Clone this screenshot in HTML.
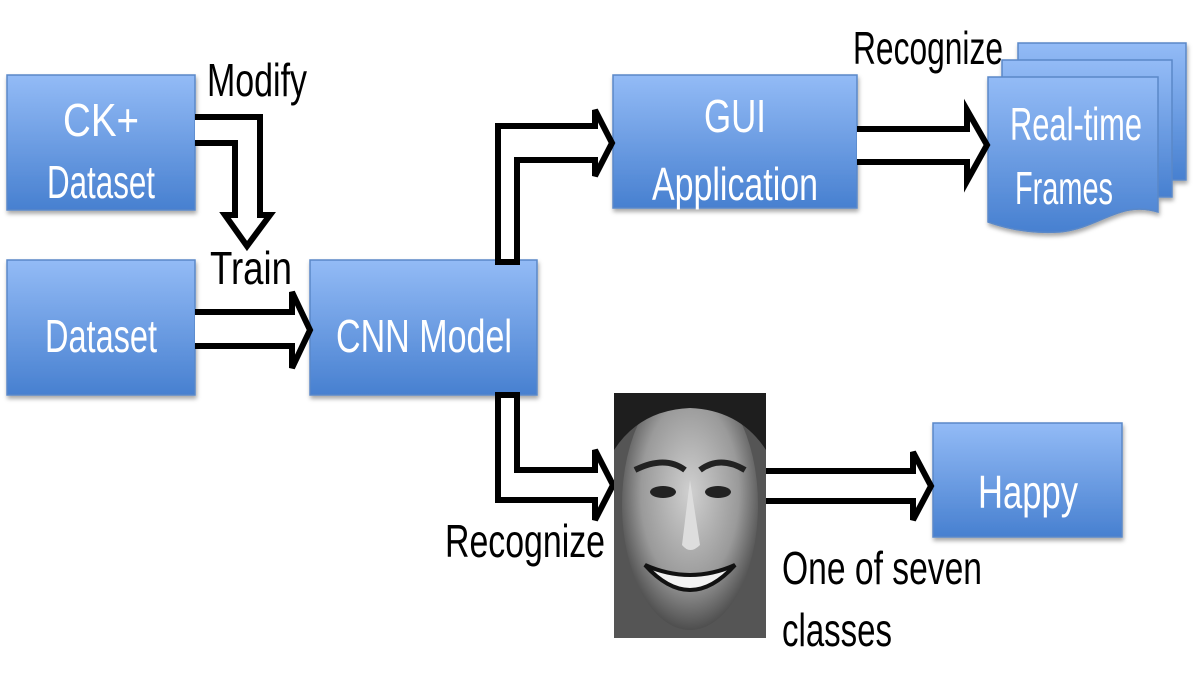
<!DOCTYPE html>
<html><head><meta charset="utf-8"><style>body{margin:0;background:#fff}svg{display:block}</style></head>
<body>
<svg width="1200" height="675" viewBox="0 0 1200 675" xmlns="http://www.w3.org/2000/svg" font-family="Liberation Sans, sans-serif">
<defs>
<linearGradient id="g" x1="0" y1="0" x2="0" y2="1"><stop offset="0" stop-color="#93bbf6"/><stop offset="1" stop-color="#4780d0"/></linearGradient>
<radialGradient id="f" cx="0.5" cy="0.45" r="0.6"><stop offset="0" stop-color="#d0d0d0"/><stop offset="0.6" stop-color="#9a9a9a"/><stop offset="1" stop-color="#3a3a3a"/></radialGradient>
<filter id="s" x="-5%" y="-5%" width="115%" height="120%"><feDropShadow dx="1" dy="3" stdDeviation="2" flood-color="#000" flood-opacity="0.35"/></filter>
<clipPath id="c"><rect x="614" y="393" width="152" height="245"/></clipPath>
</defs>
<g filter="url(#s)" stroke="#5a88c8" stroke-width="1.5" fill="url(#g)">
<rect x="7" y="75" width="188" height="135"/>
<rect x="7" y="260" width="188" height="135"/>
<rect x="310" y="260" width="227" height="135"/>
<rect x="613" y="75" width="244" height="133"/>
<rect x="933" y="423" width="189" height="114"/>
<path d="M1018 43 H1186 V180 H1018 Z"/>
<path d="M1002 60 H1172 V197 H1002 Z"/>
<path d="M988 77 H1158 V212 C1120 200 1100 228 1060 232 C1030 234 1005 228 988 222 Z"/>
</g>
<g fill="#fff" font-size="46" text-anchor="middle">
<text x="101" y="136" textLength="76" lengthAdjust="spacingAndGlyphs">CK+</text>
<text x="101" y="198" textLength="108" lengthAdjust="spacingAndGlyphs">Dataset</text>
<text x="101" y="352" textLength="112" lengthAdjust="spacingAndGlyphs">Dataset</text>
<text x="424" y="352" textLength="176" lengthAdjust="spacingAndGlyphs">CNN Model</text>
<text x="735" y="132" textLength="62" lengthAdjust="spacingAndGlyphs">GUI</text>
<text x="735" y="200" textLength="166" lengthAdjust="spacingAndGlyphs">Application</text>
<text x="1076" y="140" textLength="132" lengthAdjust="spacingAndGlyphs">Real-time</text>
<text x="1064" y="204" textLength="98" lengthAdjust="spacingAndGlyphs">Frames</text>
<text x="1028" y="508" textLength="100" lengthAdjust="spacingAndGlyphs">Happy</text>
</g>
<g fill="#fff" stroke="#000" stroke-width="6" stroke-linejoin="miter">
<path d="M195 117 H260 V215 H270 L247 246 L225 215 H235 V143 H195"/>
<path d="M195 312 H292 V292 L310 330 L292 368 V346 H195"/>
<path d="M517 262 V160 H595 V176 L612 143 L595 110 V126 H498 V262 Z"/>
<path d="M857 129 H967 V110 L987 145 L967 181 V162 H857"/>
<path d="M498 395 V500 H595 V520 L613 485 L595 450 V470 H517 V395 Z"/>
<path d="M766 471 H913 V452 L931 486 L913 520 V501 H766"/>
</g>
<g clip-path="url(#c)">
<rect x="614" y="393" width="152" height="245" fill="#555"/>
<ellipse cx="690" cy="505" rx="68" ry="125" fill="url(#f)"/>
<path d="M614 393 H766 V450 Q740 410 690 408 Q640 410 614 450 Z" fill="#1e1e1e"/>
<path d="M635 470 Q665 455 685 470" stroke="#222" stroke-width="6" fill="none"/>
<path d="M700 470 Q720 455 745 470" stroke="#222" stroke-width="6" fill="none"/>
<ellipse cx="663" cy="492" rx="13" ry="6" fill="#222"/>
<ellipse cx="718" cy="492" rx="13" ry="6" fill="#222"/>
<path d="M690 480 L682 545 Q690 555 700 545 Z" fill="#ddd"/>
<path d="M645 565 Q690 615 735 565 Q690 585 645 565Z" fill="#f2f2f2" stroke="#111" stroke-width="4"/>
</g>
<g fill="#000" font-size="46">
<text x="207" y="96" textLength="100" lengthAdjust="spacingAndGlyphs">Modify</text>
<text x="210" y="284" textLength="82" lengthAdjust="spacingAndGlyphs">Train</text>
<text x="853" y="64" textLength="150" lengthAdjust="spacingAndGlyphs">Recognize</text>
<text x="445" y="557" textLength="160" lengthAdjust="spacingAndGlyphs">Recognize</text>
<text x="782" y="584" textLength="200" lengthAdjust="spacingAndGlyphs">One of seven</text>
<text x="782" y="646" textLength="110" lengthAdjust="spacingAndGlyphs">classes</text>
</g>
</svg>
</body></html>
